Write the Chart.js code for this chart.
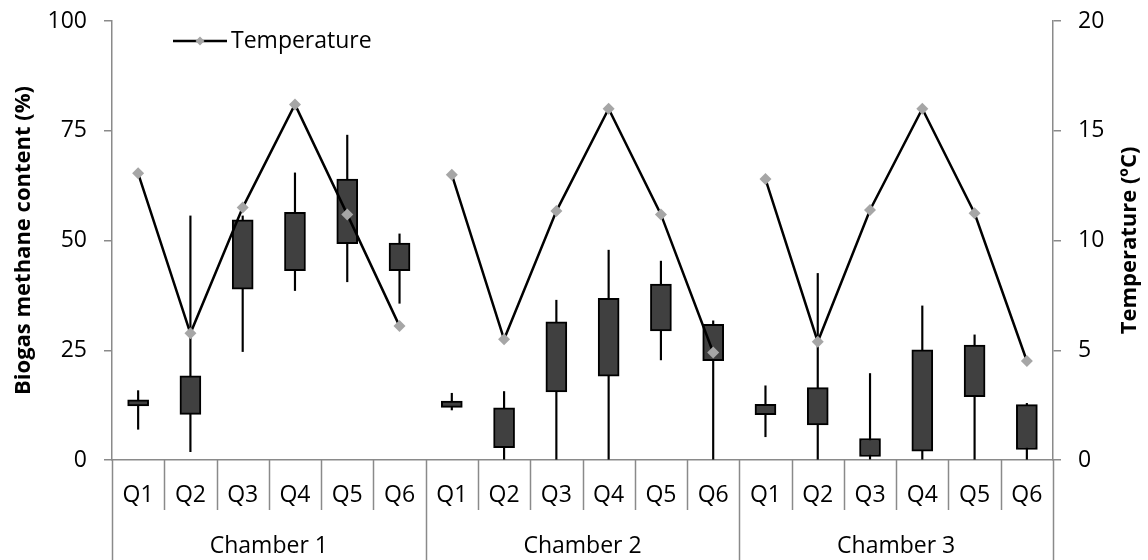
<!DOCTYPE html>
<html>
<head>
<meta charset="utf-8">
<script src="https://cdn.jsdelivr.net/npm/chart.js@4.4.1/dist/chart.umd.min.js"></script>
<style>
  html, body { margin: 0; padding: 0; background: #fff; }
  canvas { display: block; }
</style>
</head>
<body>
<canvas id="chart" width="1148" height="560"></canvas>
<script>
// Sampling periods within each chamber, and the chambers themselves
const quarters = ['Q1', 'Q2', 'Q3', 'Q4', 'Q5', 'Q6'];
const chambers = ['Chamber 1', 'Chamber 2', 'Chamber 3'];

// Biogas methane content (%) — whisker ends and box (quartile) edges, 18 entries
const whiskerLow  = [7.0, 1.9, 24.7, 38.6, 40.6, 35.7,   11.4, 0, 0, 0, 22.8, 0,     5.3, 0, 0.2, 0, 0, 0];
const boxLow      = [12.3, 10.4, 38.9, 43.1, 49.3, 43.1, 12.0, 2.8, 15.5, 19.1, 29.4, 22.6, 10.3, 8.0, 0.8, 2.0, 14.4, 2.4];
const boxHigh     = [13.7, 19.2, 54.7, 56.4, 64.0, 49.4, 13.4, 11.9, 31.5, 36.8, 40.1, 30.9, 12.7, 16.5, 4.9, 25.1, 26.2, 12.6];
const whiskerHigh = [15.8, 55.6, 55.6, 65.4, 74.0, 51.5, 15.2, 15.6, 36.4, 47.8, 45.3, 31.7, 16.9, 42.5, 19.7, 35.1, 28.5, 12.9];

// Temperature (ºC) per period
const temperature = [13.06, 5.77, 11.5, 16.2, 11.19, 6.1, 13.0, 5.5, 11.34, 16.0, 11.19, 4.9, 12.8, 5.39, 11.39, 16.0, 11.24, 4.51];

// Axis ticks
const methaneTicks = [0, 25, 50, 75, 100];
const tempTicks = [0, 5, 10, 15, 20];

const categories = [];
chambers.forEach(() => quarters.forEach(q => categories.push(q)));

const FONT = "'Open Sans', sans-serif";
const AXIS_GREY = '#8a8a8a';

const decorations = {
  id: 'decorations',
  afterDraw(chart) {
    const { ctx, chartArea, scales } = chart;
    const x = scales.x;
    const n = categories.length;
    ctx.save();
    // category separators below the horizontal axis
    ctx.strokeStyle = AXIS_GREY;
    ctx.lineWidth = 1.5;
    for (let i = 0; i <= n; i++) {
      const px = Math.round(x.getPixelForDecimal(i / n)) + 0.5;
      const bottom = (i % quarters.length === 0) ? chart.height : chartArea.bottom + 50;
      ctx.beginPath();
      ctx.moveTo(px, chartArea.bottom);
      ctx.lineTo(px, bottom);
      ctx.stroke();
    }
    // axis titles
    const midY = (chartArea.top + chartArea.bottom) / 2;
    ctx.fillStyle = '#000';
    ctx.font = "bold 22px " + FONT;
    ctx.textAlign = 'center';
    ctx.textBaseline = 'middle';
    ctx.save();
    ctx.translate(24, midY);
    ctx.rotate(-Math.PI / 2);
    ctx.fillText('Biogas methane content (%)', 0, 0);
    ctx.restore();
    ctx.save();
    ctx.translate(chartArea.right + 77, midY);
    ctx.rotate(-Math.PI / 2);
    ctx.fillText('Temperature (ºC)', 0, 0);
    ctx.restore();
    // legend entry for the temperature line
    const lx = chartArea.left + 61, ly = chartArea.top + 20;
    ctx.strokeStyle = '#000';
    ctx.lineWidth = 2.5;
    ctx.beginPath();
    ctx.moveTo(lx, ly);
    ctx.lineTo(lx + 54, ly);
    ctx.stroke();
    ctx.fillStyle = '#a6a6a6';
    ctx.beginPath();
    ctx.moveTo(lx + 27, ly - 4.5);
    ctx.lineTo(lx + 31.5, ly);
    ctx.lineTo(lx + 27, ly + 4.5);
    ctx.lineTo(lx + 22.5, ly);
    ctx.closePath();
    ctx.fill();
    ctx.fillStyle = '#000';
    ctx.font = "23px " + FONT;
    ctx.textAlign = 'left';
    ctx.fillText('Temperature', lx + 58, ly);
    ctx.restore();
  }
};

const tickFont = { family: FONT, size: 23 };

const fitValueAxis = width => s => {
  s.width = width;
  s.paddingTop = 0;
  s.paddingBottom = 0;
};

new Chart(document.getElementById('chart'), {
  data: {
    labels: categories,
    datasets: [
      {
        type: 'line',
        label: 'Temperature',
        data: temperature,
        yAxisID: 'y2',
        borderColor: '#000',
        borderWidth: 2.5,
        tension: 0,
        pointStyle: 'rectRot',
        pointRadius: 6,
        pointBackgroundColor: '#a6a6a6',
        pointBorderWidth: 0,
        segment: {
          borderColor: c => (c.p0DataIndex % quarters.length === quarters.length - 1) ? 'rgba(0,0,0,0)' : '#000'
        },
        order: 1
      },
      {
        type: 'bar',
        label: 'Interquartile range',
        data: boxLow.map((v, i) => [v, boxHigh[i]]),
        yAxisID: 'y',
        backgroundColor: '#404040',
        borderColor: '#000',
        borderWidth: 2,
        borderSkipped: false,
        barThickness: 21,
        grouped: false,
        order: 2
      },
      {
        type: 'bar',
        label: 'Range',
        data: whiskerLow.map((v, i) => [v, whiskerHigh[i]]),
        yAxisID: 'y',
        backgroundColor: '#000',
        borderWidth: 0,
        barThickness: 1.5,
        grouped: false,
        order: 3
      }
    ]
  },
  options: {
    responsive: false,
    animation: false,
    layout: { padding: { top: 21, left: 0, right: 0, bottom: 0 } },
    plugins: { legend: { display: false }, tooltip: { enabled: false } },
    scales: {
      x: {
        type: 'category',
        offset: true,
        grid: { display: false, drawTicks: false },
        border: { display: true, color: AXIS_GREY, width: 1.5 },
        ticks: { font: tickFont, color: '#000', padding: 22, maxRotation: 0, autoSkip: false },
        afterFit: s => { s.height = 60; s.paddingLeft = 0; s.paddingRight = 0; }
      },
      x2: {
        type: 'category',
        position: 'bottom',
        labels: chambers,
        offset: true,
        grid: { display: false, drawTicks: false },
        border: { display: false },
        ticks: { font: tickFont, color: '#000', padding: 13, maxRotation: 0, autoSkip: false },
        afterFit: s => { s.height = 40; s.paddingLeft = 0; s.paddingRight = 0; }
      },
      y: {
        position: 'left',
        min: 0, max: 100,
        afterBuildTicks: s => { s.ticks = methaneTicks.map(v => ({ value: v })); },
        grid: { drawOnChartArea: false, tickLength: 8, color: AXIS_GREY, lineWidth: 1.5 },
        border: { color: AXIS_GREY, width: 1.5 },
        ticks: { font: tickFont, color: '#000', padding: 17 },
        afterFit: fitValueAxis(112)
      },
      y2: {
        position: 'right',
        min: 0, max: 20,
        afterBuildTicks: s => { s.ticks = tempTicks.map(v => ({ value: v })); },
        grid: { drawOnChartArea: false, tickLength: 8, color: AXIS_GREY, lineWidth: 1.5 },
        border: { color: AXIS_GREY, width: 1.5 },
        ticks: { font: tickFont, color: '#000', padding: 17 },
        afterFit: fitValueAxis(95)
      }
    }
  },
  plugins: [decorations]
});
</script>
</body>
</html>
